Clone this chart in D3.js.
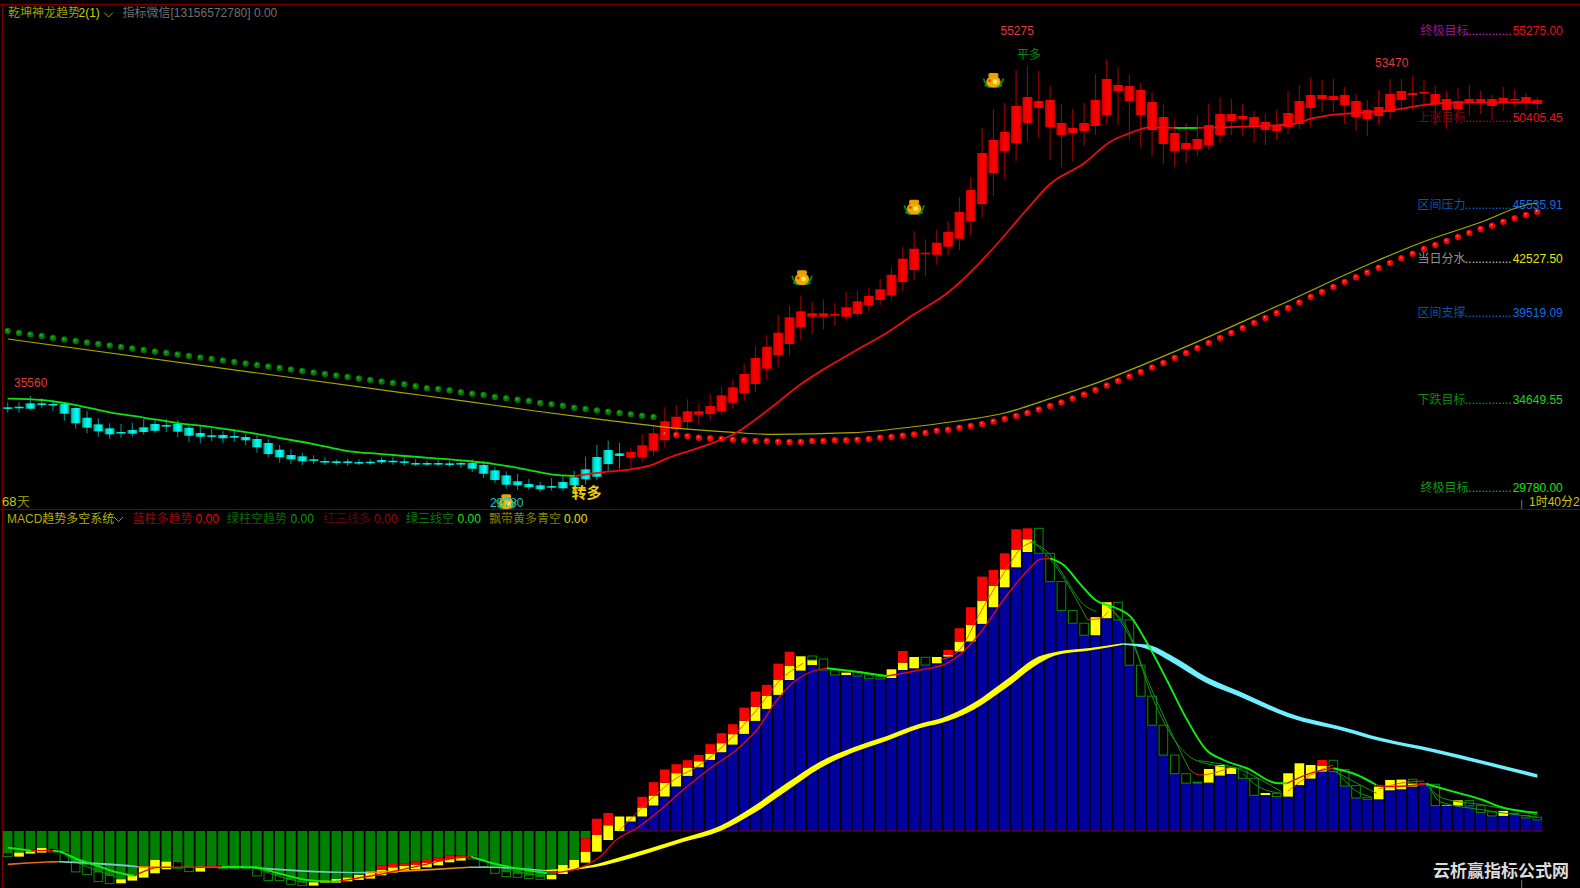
<!DOCTYPE html>
<html><head><meta charset="utf-8">
<script src="https://cdnjs.cloudflare.com/ajax/libs/d3/7.8.5/d3.min.js"></script>
<style>html,body{margin:0;padding:0;background:#000;overflow:hidden}svg{display:block}
text{font-family:"Liberation Sans","Noto Sans CJK SC",sans-serif;font-size:12px}</style></head><body>
<script>
// ---------- main panel: candles ----------
const wickHigh=[34895,34895,35246,35118,35023,34856,34616,34393,34002,33723,
33684,33757,33946,33946,33963,33907,33628,33611,33422,33277,
33388,33126,33054,32830,32512,32273,32083,31938,31826,31715,
31748,31715,31715,31826,31860,31787,31715,31636,31675,31636,
31715,31715,31636,31268,31045,30894,30632,30448,30671,30822,
31079,31860,32529,32752,32641,32384,33126,33533,34616,34744,
35062,34872,35358,35765,36178,37070,37997,38633,39765,40306,
40825,40490,40641,40451,41048,41121,41311,41757,42426,43542,
44435,43988,44507,44993,46348,47464,50198,51258,51593,53434,
53657,53378,52541,51537,51258,51593,53211,54048,53601,53155,
52709,52206,51481,50700,50477,50923,51537,51928,51816,51537,
51146,51035,51202,52262,52597,52987,52876,52932,52485,52095,
51760,52318,52932,52932,53099,52876,52541,52262,52430,52597,
52262,52039,52485,52318,52151,51928];
const bodyHigh=[34616,34649,34839,34839,34800,34800,34577,34035,33667,33444,
33238,33349,33500,33684,33628,33684,33478,33182,33054,33070,
33015,32959,32847,32624,32250,31955,31882,31715,31620,31603,
31603,31564,31581,31675,31636,31603,31508,31508,31508,31491,
31508,31508,31397,31101,30822,30487,30337,30264,30225,30448,
30710,31157,31843,32233,32049,32122,32496,33165,33835,34091,
34393,34393,34688,35285,35732,36474,37366,37997,38778,39637,
39972,39860,39860,39821,40195,40529,40825,41199,42013,42906,
43464,43241,43799,44396,45512,46739,48804,49528,49975,51425,
51928,51704,51760,50477,50198,50477,51760,52932,52597,52541,
52318,51648,50811,49919,49361,49584,50365,50979,50979,50867,
50811,50532,50365,51035,51704,52039,52039,51983,52039,51704,
51202,51369,52095,52262,52151,52206,52095,51816,51704,51816,
51816,51816,51872,51816,51928,51760];
const bodyLow=[34538,34577,34538,34744,34727,34259,33723,33478,33277,33109,
33165,33143,33238,33310,33572,33254,33031,32975,32998,32886,
32920,32775,32384,32010,31826,31715,31603,31636,31547,31508,
31508,31508,31508,31547,31581,31525,31452,31452,31436,31397,
31452,31190,30911,30559,30298,30264,30153,30041,30130,30097,
30264,30599,30744,31452,31899,31804,31826,32194,32791,33388,
33796,34203,34242,34393,34872,35397,35916,36769,37517,38147,
39079,39670,39670,39765,39670,39821,40306,40602,40864,41606,
42276,43169,43129,43576,44022,45009,45958,47688,48915,49361,
50477,51314,50254,49807,49919,50030,50310,50923,52262,51704,
50923,50086,49305,48915,49026,49026,49249,49807,50588,50700,
50254,50086,50030,50254,50421,51314,51816,51760,51481,50811,
50700,50867,51090,51760,52039,52151,51537,51202,51258,51593,
51648,51425,51593,51788,51648,51537];
const wickLow=[34314,34314,34465,34577,34393,33868,33422,33165,32975,32847,
32903,32975,33087,33199,33238,32942,32680,32607,32719,32607,
32680,32496,32083,31826,31525,31452,31397,31452,31397,31380,
31341,31380,31413,31452,31413,31341,31341,31341,31341,31302,
31229,31006,30671,30376,30075,30002,30002,29890,29963,29963,
30002,30298,30559,31045,31157,31190,31564,31899,32384,32975,
33349,33611,33907,34169,34538,34984,35469,36139,36847,37517,
38331,38705,38967,39151,39447,39670,40005,40306,40602,41121,
41718,41941,42571,43096,43391,44172,45177,46404,47353,48357,
49417,49640,48413,48022,48357,49194,49807,50365,50365,49528,
49138,48636,48190,48022,48246,48636,48971,49361,49807,49751,
49361,49249,49528,49863,50142,50254,51090,51090,50421,50030,
49751,50365,50700,51146,51202,51369,50365,50142,50700,50867,
50979,50644,51146,51369,51202,51258];
const firstRedCandle=55;
// ---------- main panel: dots ----------
const greenDots=[38872,38761,38677,38594,38482,38398,38315,38231,38147,38064,
37980,37896,37812,37729,37645,37561,37478,37394,37310,37227,
37143,37059,36976,36892,36808,36725,36641,36557,36474,36390,
36306,36222,36139,36055,35971,35899,35787,35676,35637,35564,
35453,35374,35302,35190,35118,35040,34967,34856,34783,34705,
34593,34521,34448,34370,34298,34225,34147,34075];
const firstRedDot=58;
const redDots=[33126,33070,32998,32920,32886,32847,32808,32775,32736,32736,
32697,32680,32680,32736,32736,32775,32775,32808,32847,32920,
32959,33031,33109,33182,33310,33366,33478,33572,33684,33823,
33963,34130,34298,34493,34688,34884,35107,35330,35581,35832,
36083,36334,36585,36836,37087,37366,37645,37924,38203,38482,
38761,39040,39319,39598,39877,40156,40463,40769,41048,41327,
41606,41874,42136,42404,42666,42928,43185,43447,43670,43893,
44116,44340,44563,44747,44970,45160,45344,45528];
// ---------- main panel: lines ----------
const oliveIdx=[0,34.6,40.5,46.4,52.3,58.2,64,67.5,74.6,80.5,84,88,92,96,104,112,121,124.9,130,134,135];
const oliveVal=[38426,35453,34950,34426,33946,33500,33221,33109,33199,33572,33868,34300,35100,35950,38000,40250,42833,43837,44937,45902,46014];
const stopIdx=[0,3,6,9,12,15,18,21,24,27,30,33,35,40,43,46,48,50,53,55,57,58.2,61.3,64.3,67.3,69.9,72.3,75.2,77.6,79.9,82.9,84,87,89.9,92,95,97.3,99,100.8,103,105,106.7,111.4,113.5,114.6,117,119.4,122.3,125.2,128.2,131.1,135];
const stopVal=[35096,35023,34744,34336,34046,33739,33516,33238,32903,32568,32178,32010,31899,31659,31452,31117,30877,30783,31023,31157,31436,31770,32418,33199,34560,35860,36847,37907,38778,39765,40976,41567,43503,45623,47074,48228,49433,49902,50237,50200,50200,50237,50327,50421,50644,50940,51052,51202,51498,51610,51610,51649];
const stopColor="G".repeat(17)+"R".repeat(22)+"G"+"R".repeat(12);
// ---------- main panel: levels ----------
const levelNames=["终极目标","上涨目标","区间压力","当日分水","区间支撑","下跌目标","终极目标"];
const levelValues=[55275,50405.45,45535.91,42527.5,39519.09,34649.55,29780];
const levelLabels=["55275.00","50405.45","45535.91","42527.50","39519.09","34649.55","29780.00"];
const levelNameColors=["#a01090","#7a0808","#0a55a8","#909090","#0a55a8","#0a8a0a","#0a9a0a"];
const levelDotColors=["#e020d0","#c01010","#1070e0","#d0d0d0","#1070e0","#10b010","#10c010"];
const levelNumColors=["#f01010","#f01010","#0a6fe8","#e6e600","#0a6fe8","#18d818","#18e018"];
const ingotIdx=[70.1,80,87,44];
const ingotVal=[41829,45762,52839,29333];
// ---------- MACD panel ----------
const macdBar=[-216,-216,-183,-170,-173,-206,-306,-333,-409,-446,
-483,-440,-356,-290,-306,-306,-356,-356,-340,-340,
-350,-350,-363,-406,-440,-483,-506,-513,-496,-480,
-466,-440,-406,-343,-330,-323,-306,-290,-266,-246,
-246,-246,-290,-356,-406,-423,-440,-456,-440,-340,
-290,-73,0,0,0,95,145,255,345,445,
551,638,711,788,864,971,1101,1221,1361,1510,
1604,1660,1610,1560,1560,1550,1527,1520,1530,1610,
1627,1660,1677,1744,1795,1895,2071,2238,2437,2637,
2790,2777,2494,2204,2078,1958,1958,2128,2111,1658,
1348,1058,759,573,479,479,484,554,570,527,
357,360,344,344,460,524,594,594,450,331,
317,317,407,417,444,467,254,254,254,251,
184,151,151,171,131,111];
const macdBoxEnd=[-256,-256,-226,-216,-210,-306,-409,-436,-506,-526,
-523,-496,-466,-423,-383,-373,-406,-406,-340,-376,
-376,-376,-449,-496,-496,-533,-546,-546,-516,-516,
-503,-489,-476,-443,-416,-399,-383,-363,-343,-313,
-296,-280,-356,-423,-456,-463,-476,-483,-483,-430,
-383,-316,-207,-90,145,145,235,355,481,578,
635,698,774,878,968,1101,1241,1351,1510,1650,
1747,1710,1720,1610,1584,1594,1560,1544,1617,1684,
1740,1737,1740,1760,1895,2061,2304,2451,2617,2810,
2917,3027,2777,2494,2204,2078,2138,2288,2288,2111,
1658,1348,1058,759,573,489,620,660,630,630,
527,380,377,577,677,660,654,707,614,454,
337,444,510,514,477,477,467,261,307,304,
257,191,201,177,154,138];
const macdBoxKind="HYYYHHHHHH"+"YYYYYHHYYH"+"HHHHHHHYYY"+"YYYYYYYYYY"+"YHHHHHHHYY"+"YYYYYYYYYY"+"YYYYYYYYYY"+"YYHHYHHHYY"+"YHYYYYYYYY"+"YHHHHHYYHH"+"HHHHHHYYYH"+"HYHYYYYHHH"+"HYYYYHHYYH"+"HHYHHH";
const boxStartIdx=[2,33,34,35,36,37,38,39,40,51,52,53];
const boxStartVal=[-203,-390,-363,-349,-336,-316,-299,-280,-263,-206,-40,57];
const redIdx=[2,18,33,34,35,36,37,38,39,40,51,52,53,56,57,58,59,60,61,62,63,64,65,66,67,68,69,79,83,84,85,86,87,88,89,90,116];
const redFrom=[-183,-340,-343,-330,-323,-306,-290,-266,-246,-246,-73,123,180,235,355,481,578,635,698,774,878,968,1101,1241,1351,1510,1650,1684,1760,1895,2061,2304,2451,2617,2810,2917,654];
const redTo=[-203,-363,-390,-363,-349,-336,-316,-299,-280,-263,-206,-40,57,342,488,615,668,708,761,868,978,1068,1234,1394,1461,1674,1793,1800,1810,2028,2238,2544,2611,2777,3017,3027,710];
const extraHollowIdx=[71,124];
const extraHollowFrom=[1710,477];
const extraHollowTo=[1750,517];
const ribbonIdx=[0,3.5,4.5,9.8,11.5,15,19,21.3,27.2,30.7,31.8,37.7,40.8,42.6,47.4,51.7,53.8,59.6,62.9,65.8,68.8,71.7,74.6,77.6,80.5,82.4,85.2,88.2,91,92.6,95.5,98.4,100.5,102.9,105.8,108.8,113,118.2,121.1,125.9,130.3,135];
const ribbonVal=[-333,-310,-307,-340,-357,-363,-363,-363,-406,-416,-416,-383,-363,-363,-396,-350,-290,-90,27,210,443,660,810,927,1050,1103,1243,1477,1710,1777,1817,1870,1843,1710,1510,1367,1160,1010,917,803,683,550];
const ribbonBreaks=[0,4.5,11.5,21.3,31.8,40.8,47.4,98.4,135];
const ribbonColors=["#e86a10","#78c8c8","#e86010","#78c8c8","#e89018","#78c8c8","#ffff00","#70f0ff"];
const lineIdx=[0,2.1,4,4.6,6.3,7.7,9.4,11.2,13.3,15.7,18.9,21.7,23.9,26.4,28.6,29.3,32.5,36,39.4,40.9,42.6,45.4,47.6,49.9,52.3,53.7,55.5,57.6,59.6,62,64.3,66.1,67.9,69.6,71.1,72.3,74.9,77.6,80.5,82.9,84,85.8,88.2,90.2,91.1,92,93.2,94.6,96.1,97.6,99.1,100.5,102.3,104.1,105.8,107.3,109.4,112.1,112.9,115.2,117,119.1,120.8,122,125.2,127.6,130.2,131.7,135];
const lineVal=[-166,-196,-196,-206,-290,-340,-406,-449,-363,-363,-356,-363,-423,-489,-506,-499,-440,-356,-273,-256,-316,-383,-423,-389,-256,-90,27,210,410,627,810,1010,1310,1510,1600,1627,1593,1550,1610,1677,1760,1977,2360,2627,2717,2727,2660,2477,2303,2240,2143,1893,1510,1110,810,710,627,477,477,587,627,560,460,443,470,393,310,243,183];
const lineColor="GRGGGGG"+"RRR"+"GGGGG"+"RRRR"+"GGG"+"RRRRRRRRRRRRR"+"GG"+"RRRRRRRR"+"GGGGGGGGGGGGG"+"RR"+"GG"+"RR"+"GGGGG";
const thinGreenIdx=[[4.6,6.3,7.7,10],[21.7,24,26.4],[42.6,45.4,47.6],[90.2,92,92.9,95,96.1],[90.5,92.3,95.3],[97.6,99.3,101,103.4,105.1,108.6],[97.1,98.7,100.6,102.3,104.3],[105.1,109,110.9,112.4],[109,110.4,112.4],[117,119.1,120.8],[117.3,119.1,120.3],[125.2,126.7,130.2,135],[125.5,126.4,130.2,135]];
const thinGreenVal=[[-206,-323,-389,-473],[-363,-456,-523],[-316,-416,-450],[2894,2760,2611,2261,2194],[2894,2677,2111],[2194,1878,1345,846,696,629],[2244,2044,1512,1079,613],[704,604,494,394],[577,444,377],[604,477,377],[594,394,344],[460,327,261,161],[444,294,211,138]];
const thinRedIdx=[[53.9,56.7,59,61.1,63.7,66.1,68.2,70.2],[82.3,84,85.8,87.9,89.6,90.8],[95.3,96.5,97.1],[104.3,105.2,108],[113,115,117],[121,123,125]];
const thinRedVal=[[-5,311,528,661,911,1211,1511,1677],[1711,1811,2178,2577,2844,2894],[2111,2128,2194],[613,560,640],[400,560,660],[420,480,500]];
const macdGrid=[2627,1315];
const titleParts=[["乾坤神龙趋势","#a0a000",8],["2(1)","#d0d000",78.5],["指标微信[13156572780] 0.00","#707070",122.5]];
const macdParts=[["MACD趋势多空系统","#b0b000",7],["蓝柱多趋势","#900808",132.5],["0.00","#f00000",195.5],["绿柱空趋势","#086808",227],["0.00","#0a9a0a",290.5],["红三线多","#5a0808",323],["0.00","#a00000",374],["绿三线空","#087808",406],["0.00","#10e010",457.5],["飘带黄多青空","#808000",489],["0.00","#e0e000",564]];

// ---------- drawing ----------
const W=1580,H=888;
const svg=d3.select("body").append("svg").attr("width",W).attr("height",H).style("background","#000");
const defs=svg.append("defs");
function hgrad(id,stops){const g=defs.append("linearGradient").attr("id",id);stops.forEach(s=>g.append("stop").attr("offset",s[0]).attr("stop-color",s[1]));}
function rgrad(id,stops){const g=defs.append("radialGradient").attr("id",id).attr("cx","50%").attr("cy","50%").attr("r","55%").attr("fx","38%").attr("fy","32%");stops.forEach(s=>g.append("stop").attr("offset",s[0]).attr("stop-color",s[1]));}
hgrad("rb",[[0,"#b80000"],[0.2,"#ee0000"],[0.6,"#ff0000"],[0.85,"#f00000"],[1,"#b80000"]]);
hgrad("cb",[[0,"#087a58"],[0.2,"#00d8c8"],[0.6,"#00ffff"],[0.85,"#00d8c8"],[1,"#087a58"]]);
rgrad("rd",[[0,"#ffb0b0"],[0.3,"#ff1010"],[1,"#d00000"]]);
rgrad("gd",[[0,"#50c050"],[0.35,"#0a8a0a"],[1,"#056005"]]);

const x=d3.scaleLinear().domain([0,135]).range([7.7,1537.3]);
const y=d3.scaleLinear().domain([29780,55275]).range([494,37]);
const ym=d3.scaleLinear().domain([0,3000]).range([831,531]);
const idx=d3.range(wickHigh.length);

// grids via axes
const gridMain=d3.axisLeft(y).tickValues(levelValues).tickSize(-W).tickFormat("");
const gM=svg.append("g").attr("transform",`translate(${W},0)`).call(gridMain);
const gridM=d3.axisLeft(ym).tickValues(macdGrid.concat([0])).tickSize(-W).tickFormat("");
const gM2=svg.append("g").attr("transform",`translate(${W},0)`).call(gridM);
[gM,gM2].forEach(g=>{g.select(".domain").remove();g.selectAll("line").attr("stroke","#6a0000").attr("stroke-dasharray","1.5 2.5").attr("stroke-width",1);});

// frame
svg.append("line").attr("x1",0).attr("x2",W).attr("y1",4.5).attr("y2",4.5).attr("stroke","#7a0000").attr("stroke-width",1.2);
svg.append("line").attr("x1",0).attr("x2",W).attr("y1",509.5).attr("y2",509.5).attr("stroke","#7a0000").attr("stroke-width",1.2);
svg.append("line").attr("x1",2.5).attr("x2",2.5).attr("y1",4).attr("y2",H).attr("stroke","#7a0000").attr("stroke-width",1.2);

// candles
const isRed=i=>i>=firstRedCandle;
svg.append("g").selectAll("line").data(idx).join("line")
 .attr("x1",i=>x(i)).attr("x2",i=>x(i)).attr("y1",i=>y(wickHigh[i])).attr("y2",i=>y(wickLow[i]))
 .attr("stroke",i=>isRed(i)?"#a00000":"#088a88").attr("stroke-width",1.1);
svg.append("g").selectAll("rect").data(idx).join("rect")
 .attr("x",i=>x(i)-5).attr("width",10).attr("y",i=>y(bodyHigh[i]))
 .attr("height",i=>Math.max(1.6,y(bodyLow[i])-y(bodyHigh[i])))
 .attr("fill",i=>isRed(i)?"url(#rb)":"url(#cb)");

// olive & stop lines
const ln=(xs,ys,sc,curve)=>d3.line().curve(curve||d3.curveMonotoneX).x((d,i)=>x(xs[i])).y((d,i)=>sc(ys[i]))(xs);
svg.append("path").attr("d",ln(oliveIdx,oliveVal,y)).attr("fill","none").attr("stroke","#a8a800").attr("stroke-width",1.2);

function runs(colors,n){const r=[];let s=0;for(let i=1;i<n;i++){if(colors[i]!==colors[s]||i===n-1){r.push([s,i,colors[s]]);s=i;}}return r;}
runs(stopColor,stopIdx.length).forEach(([a,b,c])=>{
 svg.append("path").attr("d",ln(stopIdx.slice(a,b+1),stopVal.slice(a,b+1),y)).attr("fill","none")
  .attr("stroke",c==="G"?"#10e010":"#ee0a10").attr("stroke-width",1.8);
});

// dots
svg.append("g").selectAll("circle").data(greenDots).join("circle")
 .attr("cx",(d,i)=>x(i)).attr("cy",d=>y(d)).attr("r",3.2).attr("fill","url(#gd)");
svg.append("g").selectAll("circle").data(redDots).join("circle")
 .attr("cx",(d,i)=>x(i+firstRedDot)).attr("cy",d=>y(d)).attr("r",3.2).attr("fill","url(#rd)");

// ingots
const ig=svg.append("g").selectAll("g").data(ingotIdx).join("g")
 .attr("transform",(d,i)=>`translate(${x(d)},${y(ingotVal[i])}) scale(1.1)`);
ig.append("path").attr("d","M-9,-2 Q-7,5 -2,6 M9,-2 Q7,5 2,6 M-8,4 L-4,6 M8,4 L4,6").attr("fill","none").attr("stroke","#0a8a20").attr("stroke-width",1.6);
ig.append("ellipse").attr("cx",0).attr("cy",1).attr("rx",6.5).attr("ry",5.5).attr("fill","#f0a800");
ig.append("rect").attr("x",-4.5).attr("y",-7).attr("width",9).attr("height",4).attr("rx",1.5).attr("fill","#e8a000");
ig.append("circle").attr("cx",1.5).attr("cy",1).attr("r",2.2).attr("fill","#ffe860");
ig.append("circle").attr("cx",-3.5).attr("cy",0).attr("r",1.3).attr("fill","#e04010");

// MACD bars
const bandW=9.6;
svg.append("g").selectAll("rect").data(idx).join("rect")
 .attr("x",i=>x(i)-bandW/2).attr("width",bandW)
 .attr("y",i=>Math.min(ym(0),ym(macdBar[i]))).attr("height",i=>Math.abs(ym(macdBar[i])-ym(0)))
 .attr("fill",i=>macdBar[i]<0?"#008000":"#00009c");
svg.append("line").attr("x1",x(54)).attr("x2",x(135)+6).attr("y1",ym(0)).attr("y2",ym(0)).attr("stroke","#8a0000").attr("stroke-width",1.2);
const boxStart=i=>{const k=boxStartIdx.indexOf(i);return k>=0?boxStartVal[k]:macdBar[i];};
const yellowI=idx.filter(i=>macdBoxKind[i]==="Y");
const hollowI=idx.filter(i=>macdBoxKind[i]==="H");
svg.append("g").selectAll("rect").data(yellowI).join("rect")
 .attr("x",i=>x(i)-bandW/2).attr("width",bandW)
 .attr("y",i=>Math.min(ym(boxStart(i)),ym(macdBoxEnd[i]))).attr("height",i=>Math.abs(ym(macdBoxEnd[i])-ym(boxStart(i))))
 .attr("fill","#ffff00");
svg.append("g").selectAll("rect").data(redIdx).join("rect")
 .attr("x",d=>x(d)-bandW/2).attr("width",bandW)
 .attr("y",(d,i)=>Math.min(ym(redFrom[i]),ym(redTo[i]))).attr("height",(d,i)=>Math.abs(ym(redTo[i])-ym(redFrom[i])))
 .attr("fill","#ff0000");
svg.append("g").selectAll("rect").data(hollowI).join("rect")
 .attr("x",i=>x(i)-bandW/2+.5).attr("width",bandW-1)
 .attr("y",i=>Math.min(ym(boxStart(i)),ym(macdBoxEnd[i]))).attr("height",i=>Math.abs(ym(macdBoxEnd[i])-ym(boxStart(i))))
 .attr("fill","none").attr("stroke","#0a8a0a").attr("stroke-width",1);
svg.append("g").selectAll("rect").data(extraHollowIdx).join("rect")
 .attr("x",d=>x(d)-bandW/2+.5).attr("width",bandW-1)
 .attr("y",(d,i)=>ym(extraHollowTo[i])).attr("height",(d,i)=>ym(extraHollowFrom[i])-ym(extraHollowTo[i]))
 .attr("fill","none").attr("stroke","#0a8a0a").attr("stroke-width",1);

// thin lines
thinRedIdx.forEach((xs,k)=>svg.append("path").attr("d",ln(xs,thinRedVal[k],ym)).attr("fill","none").attr("stroke","#f04010").attr("stroke-width",1).attr("stroke-opacity",.85));
thinGreenIdx.forEach((xs,k)=>svg.append("path").attr("d",ln(xs,thinGreenVal[k],ym)).attr("fill","none").attr("stroke","#0a9a0a").attr("stroke-width",1));

// ribbon: band thickness follows the local slope of the ribbon line
const slope=ribbonIdx.map((v,i)=>{const a=Math.max(0,i-1),b=Math.min(ribbonIdx.length-1,i+1);
 return Math.abs((ym(ribbonVal[b])-ym(ribbonVal[a]))/(ribbonIdx[b]-ribbonIdx[a]));});
const thick=slope.map(s=>1.2+0.85*s);
ribbonColors.forEach((c,k)=>{
 const a=ribbonIdx.indexOf(ribbonBreaks[k]),b=ribbonIdx.indexOf(ribbonBreaks[k+1]);
 const pts=d3.range(a,b+1);
 const area=d3.area().curve(d3.curveMonotoneX).x(i=>x(ribbonIdx[i])).y0(i=>ym(ribbonVal[i])-thick[i]/2).y1(i=>ym(ribbonVal[i])+thick[i]/2);
 svg.append("path").attr("d",area(pts)).attr("fill",c);
});

// main MACD line coloured runs
runs(lineColor,lineIdx.length).forEach(([a,b,c])=>{
 svg.append("path").attr("d",ln(lineIdx.slice(a,b+1),lineVal.slice(a,b+1),ym)).attr("fill","none")
  .attr("stroke",c==="G"?"#10f010":"#e00a10").attr("stroke-width",c==="G"?1.9:1.3);
});

// headers
titleParts.forEach(p=>svg.append("text").attr("x",p[2]).attr("y",17).attr("fill",p[1]).text(p[0]));
svg.append("path").attr("d","M104,12.5 L108.5,17 L113,12.5").attr("fill","none").attr("stroke","#a0a000").attr("stroke-width",1);
macdParts.forEach(p=>svg.append("text").attr("x",p[2]).attr("y",523).attr("fill",p[1]).text(p[0]));
svg.append("path").attr("d","M114,517 L118.5,521.5 L123,517").attr("fill","none").attr("stroke","#a0a000").attr("stroke-width",1);

// level labels
levelValues.forEach((v,i)=>{
 const by=y(v)-2.3;
 svg.append("text").attr("x",(i===0||i===6)?1420.5:1417.5).attr("y",by).attr("fill",levelNameColors[i]).text(levelNames[i]);
 svg.append("text").attr("x",1465).attr("y",by).attr("fill",levelDotColors[i]).text("..............");
 svg.append("text").attr("x",1512.7).attr("y",by).attr("fill",levelNumColors[i]).text(levelLabels[i]);
});

// annotations
const note=(t,px,py,c,o)=>{const e=svg.append("text").attr("x",px).attr("y",py).attr("fill",c).text(t);if(o)Object.keys(o).forEach(k=>e.style(k,o[k]));return e;};
note("35560",14,387,"#e03a3a");
note("55275",1000.5,35,"#e03a3a");
note("53470",1375,66.5,"#e03a3a");
note("29780",490,507,"#10c8d0");
note("平多",1017,59,"#0a8a0a");
note("转多",571.5,498,"#e8d000",{"font-size":"15px","font-weight":"700"});
note("68",2,506,"#c8c800",{"font-size":"13px"});
note("天",17,506,"#909000",{"font-size":"13px"});
note("1时40分2",1529,506,"#c8c800",{"font-size":"12px"});
svg.append("line").attr("x1",1521.7).attr("x2",1521.7).attr("y1",500).attr("y2",509).attr("stroke","#777");
svg.append("line").attr("x1",1521.7).attr("x2",1521.7).attr("y1",880).attr("y2",888).attr("stroke","#777");
note("云析赢指标公式网",1433,877,"#dcdcdc",{"font-size":"17px","font-weight":"700","font-family":"'Noto Sans CJK SC'"});
</script></body></html>
